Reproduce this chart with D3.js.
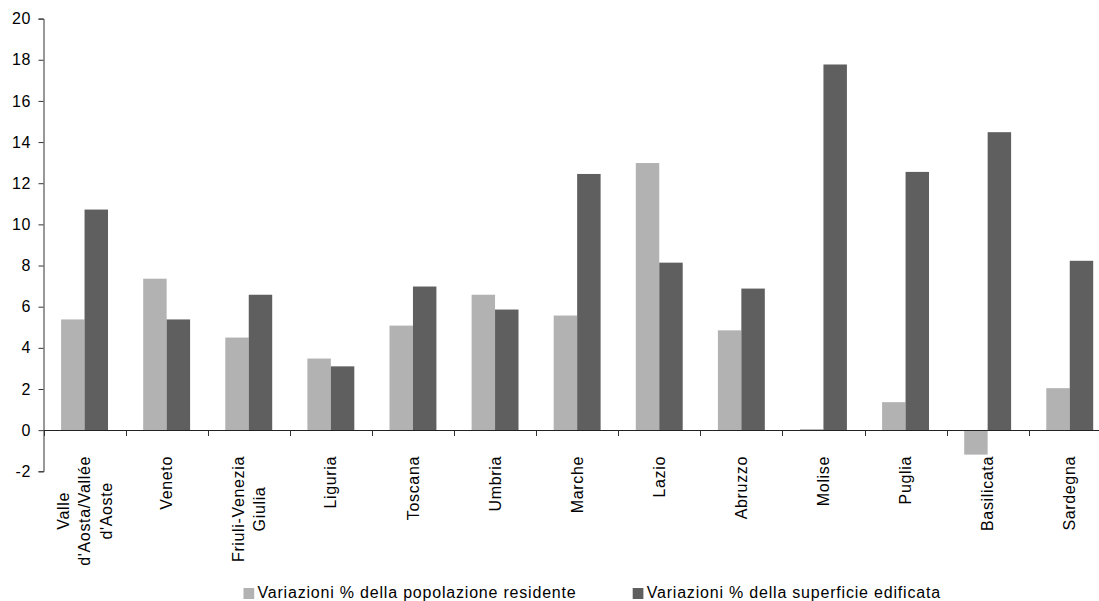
<!DOCTYPE html>
<html><head><meta charset="utf-8">
<script src="https://cdn.jsdelivr.net/npm/d3@7"></script>
<style>
html,body{margin:0;padding:0;background:#fff;}
text{font-family:"Liberation Sans",Arial,sans-serif;fill:#000;letter-spacing:0.65px;}
text.leg{letter-spacing:0.8px;}
</style></head>
<body>
<svg id="c" width="1099" height="601"></svg>
<script>
const categories = ["Valle\nd'Aosta/Vallée\nd'Aoste","Veneto","Friuli-Venezia\nGiulia","Liguria","Toscana","Umbria","Marche","Lazio","Abruzzo","Molise","Puglia","Basilicata","Sardegna"];
const seriesNames = ["Variazioni % della popolazione residente","Variazioni % della superficie edificata"];
const popolazione = [5.38, 7.36, 4.5, 3.48, 5.08, 6.58, 5.57, 12.98, 4.85, 0.05, 1.36, -1.19, 2.04];
const superficie = [10.72, 5.38, 6.58, 3.1, 6.98, 5.86, 12.45, 8.14, 6.88, 17.77, 12.55, 14.48, 8.23];
const yTicks = [-2,0,2,4,6,8,10,12,14,16,18,20];
const colors = ["#b2b2b2","#5f5f5f"];

const svg = d3.select("#c");
const FS = 16;
const x0 = 43.5, catW = 82.1;
const x = d3.scaleBand().domain(categories).range([x0, x0 + catW*categories.length]).padding(0);
const bw = x.bandwidth();
const barW = bw/3.5;
const xs = d3.scaleBand().domain([0,1]).range([barW*0.75, bw - barW*0.75]).padding(0);
const y = d3.scaleLinear().domain([-2,20]).range([471.3, 18.6]);

const data = categories.map((c,i)=>({c, v:[popolazione[i], superficie[i]]}));

// bars
const g = svg.append("g");
data.forEach(d=>{
  d.v.forEach((v,s)=>{
    g.append("rect")
      .attr("x", x(d.c) + xs(s))
      .attr("width", xs.bandwidth())
      .attr("y", Math.min(y(v), y(0)))
      .attr("height", Math.abs(y(v)-y(0)))
      .attr("fill", colors[s]);
  });
});

// y axis
const yAxis = d3.axisLeft(y).tickValues(yTicks).tickSize(5).tickPadding(7.5).tickFormat(d=> String(d));
const ya = svg.append("g").attr("transform","translate(43.5,0)").call(yAxis);
ya.select(".domain").attr("stroke","#333");
ya.selectAll(".tick line").attr("stroke","#333");
ya.selectAll(".tick text").attr("font-size",FS).attr("font-family","Liberation Sans, Arial, sans-serif").attr("fill","#000");

// x axis at zero: ticks at category boundaries
const bounds = d3.range(categories.length+1).map(i=> x0 + i*catW);
const xa = svg.append("g");
xa.append("line").attr("x1",x0).attr("x2",1099).attr("y1",Math.round(y(0))+0.5).attr("y2",Math.round(y(0))+0.5).attr("stroke","#222").attr("stroke-width",1.2);
bounds.forEach(b=>{
  xa.append("line").attr("x1",Math.round(b)+0.5).attr("x2",Math.round(b)+0.5)
    .attr("y1",Math.round(y(0))+0.5).attr("y2",Math.round(y(0))+6).attr("stroke","#333");
});

// category labels rotated
const labTop = 456, lineH = 21.5;
categories.forEach(c=>{
  const lines = c.split("\n");
  const cx = x(c) + bw/2;
  const grp = svg.append("g").attr("transform",`translate(${cx},0) rotate(-90)`);
  const texts = lines.map((l,i)=> grp.append("text").text(l).attr("font-size",FS).attr("text-anchor","middle"));
  const maxW = d3.max(texts, t=> t.node().getComputedTextLength());
  const n = lines.length;
  texts.forEach((t,i)=>{
    const off = (i - (n-1)/2)*lineH;
    t.attr("x", -(labTop + maxW/2)).attr("y", off).attr("dy","0.35em");
  });
});

// legend
const legX = [243.5, 632.7];
seriesNames.forEach((s,i)=>{
  svg.append("rect").attr("x",legX[i]).attr("y",588).attr("width",10.7).attr("height",11).attr("fill",colors[i]);
  svg.append("text").attr("class","leg").attr("x",legX[i]+14).attr("y",598.3).attr("font-size",FS).text(s);
});
</script>
</body></html>
